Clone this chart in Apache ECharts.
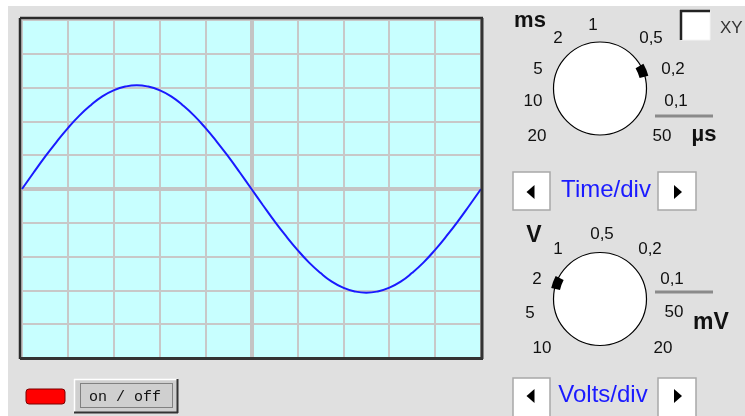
<!DOCTYPE html>
<html>
<head>
<meta charset="utf-8">
<script src="https://cdn.jsdelivr.net/npm/echarts@6/dist/echarts.min.js"></script>
<style>
html,body{margin:0;padding:0;background:#fff;}
#main{width:745px;height:416px;}
</style>
</head>
<body>
<div id="main"></div>
<script>
// Time axis in divisions (screen spans 10 divisions, centred on 0)
const timeDiv = [-5,-4.75,-4.5,-4.25,-4,-3.75,-3.5,-3.25,-3,-2.75,-2.5,-2.25,-2,-1.75,-1.5,-1.25,-1,-0.75,-0.5,-0.25,0,0.25,0.5,0.75,1,1.25,1.5,1.75,2,2.25,2.5,2.75,3,3.25,3.5,3.75,4,4.25,4.5,4.75,5];
const trace = [0,0.48,0.95,1.39,1.80,2.17,2.48,2.74,2.92,3.03,3.07,3.03,2.92,2.74,2.48,2.17,1.80,1.39,0.95,0.48,0,-0.48,-0.95,-1.39,-1.80,-2.17,-2.48,-2.74,-2.92,-3.03,-3.07,-3.03,-2.92,-2.74,-2.48,-2.17,-1.80,-1.39,-0.95,-0.48,0];
// Knob tick labels
const timeKnobLabels = ['1','0,5','0,2','0,1','50','20','10','5'];
const voltKnobLabels = ['0,5','0,2','0,1','50','20','10','5','2','1'];
const timeUnits = ['ms','2','µs'];
const voltUnits = ['V','mV'];
const controlLabels = ['Time/div','Volts/div','on / off','XY'];

const FONT = '"Liberation Sans", Arial, sans-serif';

// layout (positions only)
const timeLabelPos = [[593,25],[651,38],[673,69],[676,101],[662,136],[537,136],[533,101],[538,69]];
const voltLabelPos = [[602,234],[650,249],[672,279],[674,312],[663,348],[542,348],[530,313],[537,279],[558,249]];

function txt(t, x, y, size, opts) {
  opts = opts || {};
  return {
    type: 'text', z: 10,
    style: {
      text: t, x: x, y: y,
      fill: opts.fill || '#111',
      font: (opts.bold ? 'bold ' : '') + size + 'px ' + (opts.family || FONT),
      textAlign: opts.align || 'center',
      textVerticalAlign: 'middle'
    }
  };
}
function line(x1, y1, x2, y2, stroke, w, dash) {
  return { type: 'line', z: 10, shape: {x1, y1, x2, y2}, style: {stroke, lineWidth: w, lineDash: dash || null} };
}
function button(x, y, w, h, dir, cy) {
  const cx = x + w / 2;
  const pts = dir < 0
    ? [[cx - 5, cy], [cx + 3, cy - 7], [cx + 3, cy + 7]]
    : [[cx + 5, cy], [cx - 3, cy - 7], [cx - 3, cy + 7]];
  return [
    { type: 'rect', z: 9, shape: {x, y, width: w, height: h}, style: {fill: '#fff', stroke: '#a8a8a8', lineWidth: 1.5} },
    { type: 'polygon', z: 10, shape: {points: pts}, style: {fill: '#000'} }
  ];
}

const graphics = [
  // white margin
  { type: 'rect', z: 1, shape: {x: 0, y: 0, width: 745, height: 6}, style: {fill: '#fff'} },
  { type: 'rect', z: 1, shape: {x: 0, y: 0, width: 8, height: 416}, style: {fill: '#fff'} },
  // screen bevel
  line(20, 18, 483, 18, '#2b2b2b', 2.5),
  line(20, 18, 20, 359, '#2b2b2b', 2.5),
  line(482, 18, 482, 359, '#333', 3),
  line(20, 358.5, 483, 358.5, '#333', 3),
  // time knob
  { type: 'circle', z: 9, shape: {cx: 600, cy: 88.5, r: 46.5}, style: {fill: '#fff', stroke: '#000', lineWidth: 1.2} },
  { type: 'sector', z: 10, shape: {cx: 600, cy: 88.5, r0: 41, r: 50, startAngle: -0.52, endAngle: -0.26}, style: {fill: '#000'} },
  line(655, 116, 713, 116, '#8a8a8a', 3),
  // volts knob
  { type: 'circle', z: 9, shape: {cx: 600, cy: 299, r: 46.5}, style: {fill: '#fff', stroke: '#000', lineWidth: 1.2} },
  { type: 'sector', z: 10, shape: {cx: 600, cy: 299, r0: 41, r: 50, startAngle: Math.PI + 0.22, endAngle: Math.PI + 0.48}, style: {fill: '#000'} },
  line(655, 292, 713, 292, '#8a8a8a', 3),
  // checkbox
  { type: 'rect', z: 9, shape: {x: 681, y: 11, width: 29, height: 29}, style: {fill: '#fff', stroke: '#f4f4f4', lineWidth: 1} },
  line(680, 11, 710, 11, '#222', 2.5),
  line(681, 10, 681, 40, '#222', 2.5),
  // LED
  { type: 'rect', z: 9, shape: {x: 26, y: 389, width: 39, height: 15, r: 3}, style: {fill: '#ff0000', stroke: '#7a0000', lineWidth: 1} },
  // on/off button
  { type: 'rect', z: 9, shape: {x: 74, y: 379, width: 104, height: 34}, style: {fill: '#cfcfcf'} },
  line(74, 379.5, 178, 379.5, '#fff', 1.5),
  line(74.5, 379, 74.5, 413, '#fff', 1.5),
  line(74, 412.5, 178, 412.5, '#333', 2),
  line(177.5, 379, 177.5, 413, '#333', 2),
  { type: 'rect', z: 10, shape: {x: 80.5, y: 383.5, width: 92, height: 24}, style: {fill: null, stroke: '#333', lineWidth: 1, lineDash: [1, 1]} },
  txt(controlLabels[2], 125, 397, 15, {family: '"Liberation Mono", "DejaVu Sans Mono", monospace', fill: '#111'}),
  // control labels
  txt(controlLabels[0], 606, 190, 24, {fill: '#1a1aff'}),
  txt(controlLabels[1], 603, 395, 24, {fill: '#1a1aff'}),
  txt(controlLabels[3], 720, 28, 17, {fill: '#333', align: 'left'}),
  // units
  txt(timeUnits[0], 530, 21, 22, {bold: true}),
  txt(timeUnits[1], 558, 38, 17),
  txt(timeUnits[2], 704, 135, 22, {bold: true}),
  txt(voltUnits[0], 534, 236, 23, {bold: true}),
  txt(voltUnits[1], 711, 323, 23, {bold: true})
];
timeKnobLabels.forEach((t, i) => graphics.push(txt(t, timeLabelPos[i][0], timeLabelPos[i][1], 17)));
voltKnobLabels.forEach((t, i) => graphics.push(txt(t, voltLabelPos[i][0], voltLabelPos[i][1], 17)));
button(513, 172, 37, 38, -1, 192).forEach(g => graphics.push(g));
button(658, 172, 38, 38, 1, 192).forEach(g => graphics.push(g));
button(513, 378, 37, 40, -1, 396).forEach(g => graphics.push(g));
button(658, 378, 38, 40, 1, 396).forEach(g => graphics.push(g));

const chart = echarts.init(document.getElementById('main'), null, {renderer: 'canvas'});
chart.setOption({
  backgroundColor: '#e0e0e0',
  animation: false,
  grid: { left: 22, top: 20, width: 459, height: 338, show: true, backgroundColor: '#c8ffff', borderWidth: 0 },
  xAxis: {
    type: 'value', min: -5, max: 5, interval: 1,
    axisLabel: {show: false}, axisTick: {show: false},
    axisLine: {show: true, onZero: true, lineStyle: {color: '#c4c4c4', width: 4}},
    splitLine: {show: true, lineStyle: {color: '#c8c8c8', width: 2}}
  },
  yAxis: {
    type: 'value', min: -5, max: 5, interval: 1,
    axisLabel: {show: false}, axisTick: {show: false},
    axisLine: {show: true, onZero: true, lineStyle: {color: '#c4c4c4', width: 4}},
    splitLine: {show: true, lineStyle: {color: '#c8c8c8', width: 2}}
  },
  series: [{
    type: 'line',
    data: timeDiv.map((t, i) => [t, trace[i]]),
    showSymbol: false,
    smooth: true,
    lineStyle: {color: '#1a1aff', width: 2},
    z: 5
  }],
  graphic: { elements: graphics }
});
</script>
</body>
</html>
